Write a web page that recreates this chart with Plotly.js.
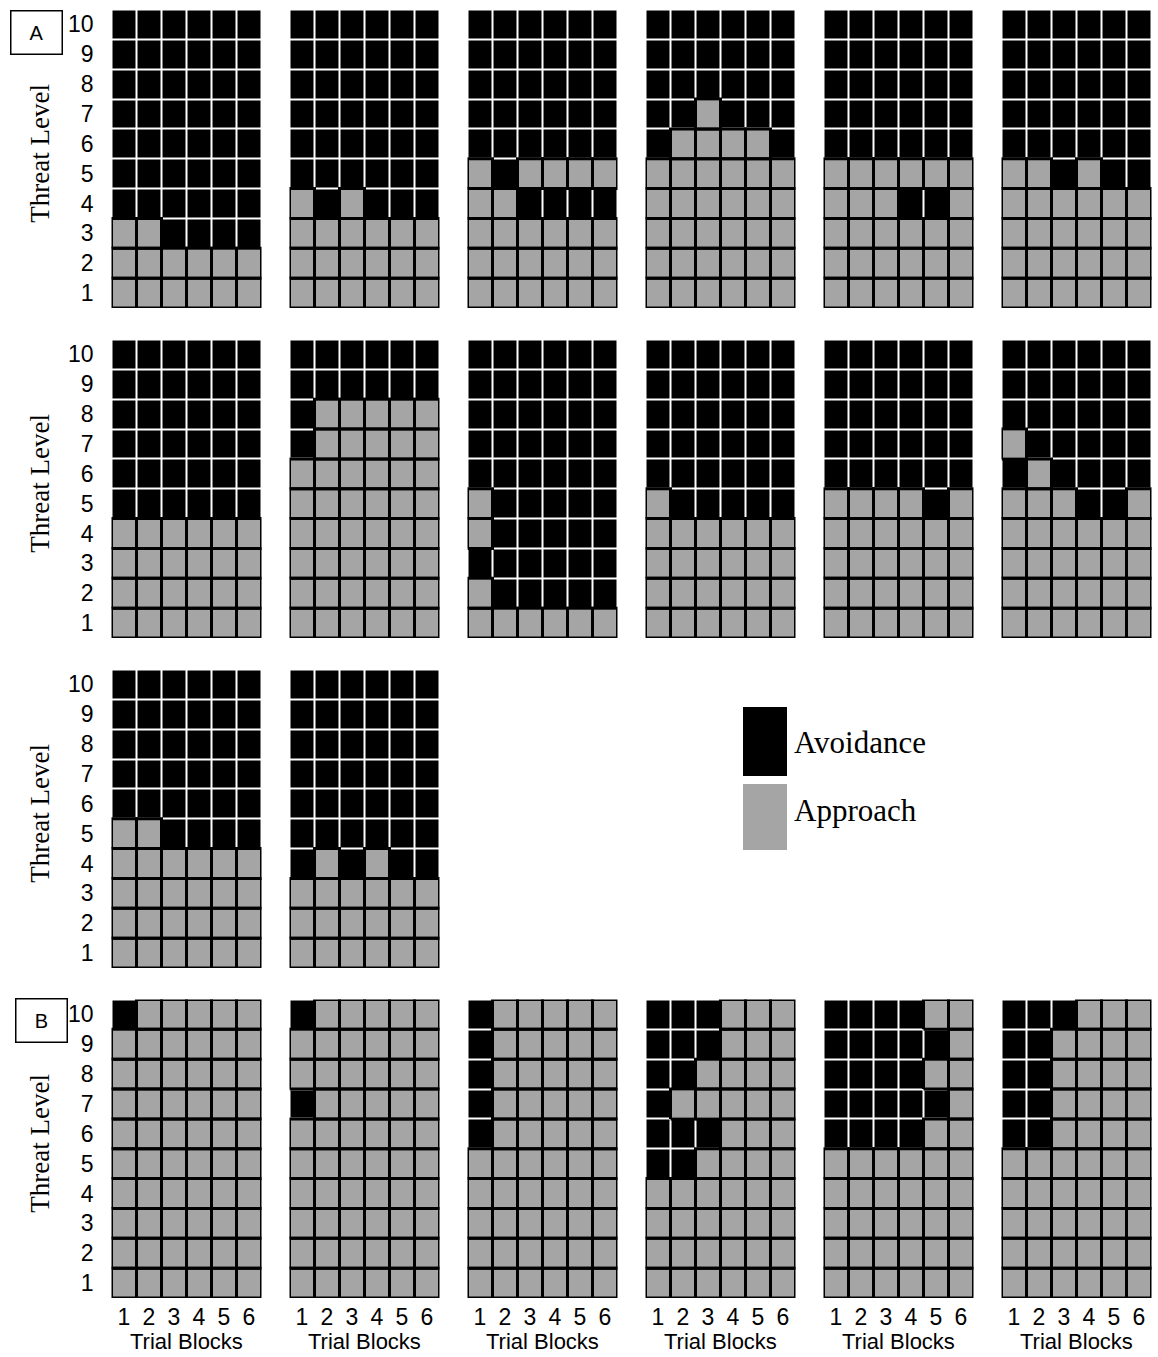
<!DOCTYPE html>
<html>
<head>
<meta charset="utf-8">
<script src="https://cdn.plot.ly/plotly-3.0.1.min.js"></script>
<style>
  html, body { margin: 0; padding: 0; background: #ffffff; }
  #chart { width: 1158px; height: 1357px; }
</style>
</head>
<body>
<div id="chart"></div>
<script>
// ---------------- DATA ----------------
// Trial blocks (x) and threat levels (y)
const trialBlocks = [1, 2, 3, 4, 5, 6];
const threatLevels = [1, 2, 3, 4, 5, 6, 7, 8, 9, 10];
const trialTickText = ["1", "2", "3", "4", "5", "6"];
const levelTickText = ["1", "2", "3", "4", "5", "6", "7", "8", "9", "10"];

// Each panel: rows listed from threat level 10 (top) down to 1 (bottom),
// one character per trial block: 1 = Avoidance, 0 = Approach
const panelA1  = ["111111","111111","111111","111111","111111","111111","111111","001111","000000","000000"];
const panelA2  = ["111111","111111","111111","111111","111111","111111","010111","000000","000000","000000"];
const panelA3  = ["111111","111111","111111","111111","111111","010000","001111","000000","000000","000000"];
const panelA4  = ["111111","111111","111111","110111","100001","000000","000000","000000","000000","000000"];
const panelA5  = ["111111","111111","111111","111111","111111","000000","000110","000000","000000","000000"];
const panelA6  = ["111111","111111","111111","111111","111111","001011","000000","000000","000000","000000"];
const panelA7  = ["111111","111111","111111","111111","111111","111111","000000","000000","000000","000000"];
const panelA8  = ["111111","111111","100000","100000","000000","000000","000000","000000","000000","000000"];
const panelA9  = ["111111","111111","111111","111111","111111","011111","011111","111111","011111","000000"];
const panelA10 = ["111111","111111","111111","111111","111111","011111","000000","000000","000000","000000"];
const panelA11 = ["111111","111111","111111","111111","111111","000010","000000","000000","000000","000000"];
const panelA12 = ["111111","111111","111111","011111","101111","000110","000000","000000","000000","000000"];
const panelA13 = ["111111","111111","111111","111111","111111","001111","000000","000000","000000","000000"];
const panelA14 = ["111111","111111","111111","111111","111111","111111","101011","000000","000000","000000"];
const panelB1  = ["100000","000000","000000","000000","000000","000000","000000","000000","000000","000000"];
const panelB2  = ["100000","000000","000000","100000","000000","000000","000000","000000","000000","000000"];
const panelB3  = ["100000","100000","100000","100000","100000","000000","000000","000000","000000","000000"];
const panelB4  = ["111000","111000","110000","100000","111000","110000","000000","000000","000000","000000"];
const panelB5  = ["111100","111110","111100","111110","111100","000000","000000","000000","000000","000000"];
const panelB6  = ["111000","110000","110000","110000","110000","000000","000000","000000","000000","000000"];

const legendLabels = ["Avoidance", "Approach"];
const yTitle = "Threat Level";
const xTitle = "Trial Blocks";
const sectionLabels = ["A", "B"];

// ---------------- LAYOUT CONSTANTS ----------------
const W = 1158, H = 1357;
const colLeft = [111.5, 289.5, 467.5, 645.5, 823.5, 1001.5];
const rowTop = [9.5, 339.5, 669.5, 999.5];
const panelW = 150, panelH = 298.5;
const COL_AVOID = "#000000", COL_APPROACH = "#a5a5a5";

// panel -> [data, row, col]
const panels = [
  [panelA1, 0, 0], [panelA2, 0, 1], [panelA3, 0, 2], [panelA4, 0, 3], [panelA5, 0, 4], [panelA6, 0, 5],
  [panelA7, 1, 0], [panelA8, 1, 1], [panelA9, 1, 2], [panelA10, 1, 3], [panelA11, 1, 4], [panelA12, 1, 5],
  [panelA13, 2, 0], [panelA14, 2, 1],
  [panelB1, 3, 0], [panelB2, 3, 1], [panelB3, 3, 2], [panelB4, 3, 3], [panelB5, 3, 4], [panelB6, 3, 5]
];

const tickFont = { family: "Liberation Sans, Arial, sans-serif", size: 23, color: "#000" };
const serifFont = { family: "Liberation Serif, Times New Roman, serif", color: "#000" };

const data = [];
const layout = {
  width: W, height: H,
  margin: { l: 0, r: 0, t: 0, b: 0 },
  paper_bgcolor: "#ffffff", plot_bgcolor: "rgba(0,0,0,0)",
  showlegend: false,
  annotations: [], shapes: []
};

panels.forEach(([rows, r, c], i) => {
  const n = i + 1;
  const xa = n === 1 ? "x" : "x" + n;
  const ya = n === 1 ? "y" : "y" + n;
  const xKey = n === 1 ? "xaxis" : "xaxis" + n;
  const yKey = n === 1 ? "yaxis" : "yaxis" + n;

  // z ordered by threat level ascending
  const z = threatLevels.map((lv) => {
    const s = rows[threatLevels.length - lv];
    return trialBlocks.map((t, j) => Number(s[j]));
  });

  data.push({
    type: "heatmap", x: trialBlocks, y: threatLevels, z: z,
    xaxis: xa, yaxis: ya, zmin: 0, zmax: 1,
    colorscale: [[0, COL_APPROACH], [1, COL_AVOID]],
    showscale: false, xgap: 2, ygap: 2, hoverinfo: "skip"
  });

  // black outline around every Approach cell
  const ox = [], oy = [];
  threatLevels.forEach((lv, li) => {
    trialBlocks.forEach((t, j) => {
      if (z[li][j] === 0) {
        ox.push(t - 0.5, t + 0.5, t + 0.5, t - 0.5, t - 0.5, null);
        oy.push(lv - 0.5, lv - 0.5, lv + 0.5, lv + 0.5, lv - 0.5, null);
      }
    });
  });
  data.push({
    type: "scatter", mode: "lines", x: ox, y: oy, xaxis: xa, yaxis: ya,
    line: { color: "#000000", width: 3 }, hoverinfo: "skip", cliponaxis: false,
    connectgaps: false
  });

  const left = colLeft[c], top = rowTop[r];
  layout[xKey] = {
    domain: [left / W, (left + panelW) / W],
    range: [0.5, 6.5], anchor: ya, fixedrange: true,
    showgrid: false, zeroline: false, showline: false, ticks: "",
    tickmode: "array", tickvals: trialBlocks, ticktext: trialTickText,
    showticklabels: r === 3, tickfont: tickFont, ticklabelstandoff: 3
  };
  layout[yKey] = {
    domain: [1 - (top + panelH) / H, 1 - top / H],
    range: [0.5, 10.5], anchor: xa, fixedrange: true,
    showgrid: false, zeroline: false, showline: false, ticks: "",
    tickmode: "array", tickvals: threatLevels, ticktext: levelTickText,
    showticklabels: c === 0, tickfont: tickFont, ticklabelstandoff: 17
  };

  if (c === 0) {
    layout.annotations.push({
      text: yTitle, xref: "paper", yref: "paper",
      x: 40 / W, y: 1 - (top + panelH / 2 - 5) / H,
      xanchor: "center", yanchor: "middle", textangle: -90, showarrow: false,
      font: Object.assign({ size: 27 }, serifFont)
    });
  }
  if (r === 3) {
    layout.annotations.push({
      text: xTitle, xref: "paper", yref: "paper",
      x: (left + panelW / 2) / W, y: 1 - 1341 / H,
      xanchor: "center", yanchor: "middle", showarrow: false,
      font: { family: "Liberation Sans, Arial, sans-serif", size: 22, color: "#000" }
    });
  }
});

// Section labels A and B
[[sectionLabels[0], 36, 33], [sectionLabels[1], 41, 1020]].forEach(([txt, cx, cy]) => {
  layout.annotations.push({
    text: txt, xref: "paper", yref: "paper", x: cx / W, y: 1 - cy / H,
    xanchor: "center", yanchor: "middle", showarrow: false,
    width: 48, height: 40, borderpad: 1, bordercolor: "#000", borderwidth: 1.5,
    bgcolor: "#ffffff",
    font: { family: "Liberation Sans, Arial, sans-serif", size: 20, color: "#000" }
  });
});

// Legend swatches and labels
layout.shapes.push({
  type: "rect", xref: "paper", yref: "paper",
  x0: 743 / W, x1: 787 / W, y0: 1 - 776 / H, y1: 1 - 707 / H,
  fillcolor: COL_AVOID, line: { width: 0 }
});
layout.shapes.push({
  type: "rect", xref: "paper", yref: "paper",
  x0: 743 / W, x1: 787 / W, y0: 1 - 850 / H, y1: 1 - 784 / H,
  fillcolor: COL_APPROACH, line: { width: 0 }
});
layout.annotations.push({
  text: legendLabels[0], xref: "paper", yref: "paper", x: 792 / W, y: 1 - 742 / H,
  xanchor: "left", yanchor: "middle", showarrow: false,
  font: Object.assign({ size: 31 }, serifFont)
});
layout.annotations.push({
  text: legendLabels[1], xref: "paper", yref: "paper", x: 792 / W, y: 1 - 810 / H,
  xanchor: "left", yanchor: "middle", showarrow: false,
  font: Object.assign({ size: 31 }, serifFont)
});

Plotly.newPlot("chart", data, layout, { displayModeBar: false, staticPlot: true });
</script>
</body>
</html>
